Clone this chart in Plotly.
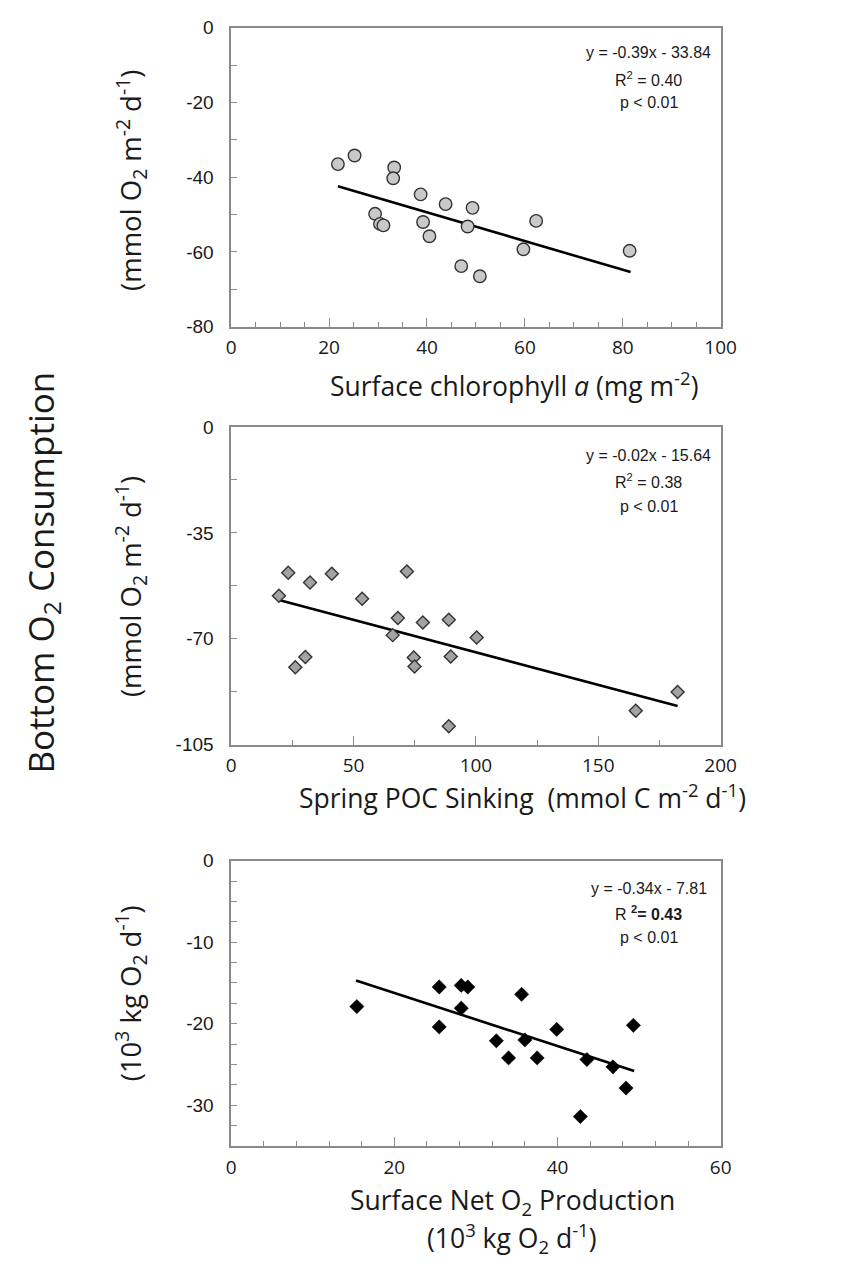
import plotly.graph_objects as go

W, H = 841, 1270

# ---------------- data ----------------
chl_x = [21.8, 25.2, 33.3, 33.1, 38.7, 43.8, 49.3, 29.4, 30.4, 31.1, 39.2, 40.5, 48.3, 62.3, 59.7, 81.4, 47.0, 50.8]
chl_y = [-36.5, -34.2, -37.4, -40.3, -44.6, -47.2, -48.2, -49.8, -52.5, -52.9, -52.0, -55.8, -53.2, -51.7, -59.3, -59.7, -63.8, -66.5]
chl_fit_x = [21.8, 81.6]
chl_fit_y = [-42.4, -65.4]

poc_x = [19.5, 23.3, 32.2, 41.1, 71.8, 53.5, 68.1, 78.3, 88.9, 66.0, 100.3, 30.3, 26.2, 74.6, 74.9, 89.7, 88.9, 165.3, 182.4]
poc_y = [-55.8, -48.2, -51.4, -48.5, -47.8, -56.8, -63.1, -64.6, -63.7, -68.8, -69.6, -76.0, -79.4, -76.2, -79.2, -75.9, -98.9, -93.8, -87.6]
poc_fit_x = [19.5, 182.4]
poc_fit_y = [-57.2, -92.2]

npp_x = [15.4, 25.5, 25.5, 28.2, 29.0, 28.2, 35.6, 32.5, 36.0, 34.0, 37.5, 39.9, 43.6, 46.8, 49.3, 48.4, 42.8]
npp_y = [-17.9, -15.5, -20.4, -15.3, -15.5, -18.1, -16.4, -22.1, -22.0, -24.2, -24.2, -20.7, -24.4, -25.3, -20.2, -27.9, -31.4]
npp_fit_x = [15.3, 49.4]
npp_fit_y = [-14.7, -25.8]

y1_ticks = [0, -20, -40, -60, -80]
y1_labels = ["0", "-20", "-40", "-60", "-80"]
y2_ticks = [0, -35, -70, -105]
y2_labels = ["0", "-35", "-70", "-105"]
y3_ticks = [0, -10, -20, -30]
y3_labels = ["0", "-10", "-20", "-30"]

stats1 = ["y = -0.39x - 33.84", "R<sup>2</sup> = 0.40", "p < 0.01"]
stats2 = ["y = -0.02x - 15.64", "R<sup>2</sup> = 0.38", "p < 0.01"]
stats3 = ["y = -0.34x - 7.81", "R <b><sup>2</sup>= 0.43</b>", "p < 0.01"]

# ---------------- helpers (window pixels -> paper fractions) ----------------
def px(x):
    return x / W

def py(y):
    return 1 - y / H

AXIS_COL = "#8a8a8a"
TXT = "#1a1a1a"
TICK_FONT_Y = dict(family="Liberation Sans, Arial", size=19, color=TXT)
TICK_FONT_X = dict(family="Open Sans", size=19, color=TXT)
TITLE_FONT = "Open Sans"

fig = go.Figure()

# panel 1
fig.add_trace(go.Scatter(x=chl_fit_x, y=chl_fit_y, mode="lines",
                         line=dict(color="black", width=2.6), xaxis="x", yaxis="y", showlegend=False))
fig.add_trace(go.Scatter(x=chl_x, y=chl_y, mode="markers",
                         marker=dict(symbol="circle", size=12.5, color="#c9c9c9",
                                     line=dict(color="#333333", width=1.4)),
                         xaxis="x", yaxis="y", showlegend=False))
# panel 2
fig.add_trace(go.Scatter(x=poc_fit_x, y=poc_fit_y, mode="lines",
                         line=dict(color="black", width=2.6), xaxis="x2", yaxis="y2", showlegend=False))
fig.add_trace(go.Scatter(x=poc_x, y=poc_y, mode="markers",
                         marker=dict(symbol="diamond", size=10, color="#a3a3a3",
                                     line=dict(color="#333333", width=1.4)),
                         xaxis="x2", yaxis="y2", showlegend=False))
# panel 3
fig.add_trace(go.Scatter(x=npp_fit_x, y=npp_fit_y, mode="lines",
                         line=dict(color="black", width=2.6), xaxis="x3", yaxis="y3", showlegend=False))
fig.add_trace(go.Scatter(x=npp_x, y=npp_y, mode="markers",
                         marker=dict(symbol="diamond", size=11, color="black",
                                     line=dict(color="black", width=0.5)),
                         xaxis="x3", yaxis="y3", showlegend=False))

xdom = [px(232), px(734)]


def xaxis(rng, dtick, mdtick, anchor):
    return dict(domain=xdom, range=rng, anchor=anchor, showgrid=False, zeroline=False,
                showline=True, mirror=True, linecolor=AXIS_COL, linewidth=1.6,
                ticks="inside", ticklen=9, tickwidth=1.2, tickcolor=AXIS_COL,
                dtick=dtick, tick0=0, tickfont=TICK_FONT_X, ticklabelstandoff=3,
                minor=dict(dtick=mdtick, tick0=0, ticks="inside", ticklen=5,
                           tickwidth=1.2, tickcolor=AXIS_COL, showgrid=False))


def yaxis(dom, rng, vals, labels, mdtick, anchor):
    return dict(domain=dom, range=rng, anchor=anchor, showgrid=False, zeroline=False,
                showline=True, mirror=True, linecolor=AXIS_COL, linewidth=1.6,
                ticks="inside", ticklen=6, tickwidth=1.2, tickcolor=AXIS_COL,
                tickmode="array", tickvals=vals, ticktext=labels,
                tickfont=TICK_FONT_Y, ticklabelstandoff=12,
                minor=dict(dtick=mdtick, tick0=0, ticks="inside", ticklen=6,
                           tickwidth=1.2, tickcolor=AXIS_COL, showgrid=False))


fig.update_layout(
    width=W, height=H,
    margin=dict(l=0, r=0, t=0, b=0),
    paper_bgcolor="white", plot_bgcolor="white",
    xaxis=xaxis([0, 100], 20, 5, "y"),
    yaxis=yaxis([py(322), py(18)], [-80, 0], y1_ticks, y1_labels, 10, "x"),
    xaxis2=xaxis([0, 200], 50, 25, "y2"),
    yaxis2=yaxis([py(747), py(424)], [-105, 0], y2_ticks, y2_labels, 17.5, "x2"),
    xaxis3=xaxis([0, 60], 20, 4, "y3"),
    yaxis3=yaxis([py(1155), py(865)], [-35, 0], y3_ticks, y3_labels, 2.5, "x3"),
)

ann = []


def text(x, y, t, size, family=TITLE_FONT, angle=0):
    ann.append(dict(x=px(x), y=py(y), xref="paper", yref="paper", text=t, showarrow=False,
                    textangle=angle, xanchor="center", yanchor="middle",
                    font=dict(family=family, size=size, color=TXT)))


# stats boxes
for lines, ys in ((stats1, (43, 70, 94)), (stats2, (453, 479, 505)), (stats3, (893, 918, 943))):
    for t, yy in zip(lines, ys):
        text(660, yy, t, 16, family="Liberation Sans, Arial")

# x-axis titles
text(523, 381, "Surface chlorophyll <i>a</i> (mg m<sup>-2</sup>)", 26.5)
text(531, 800, "Spring POC Sinking  (mmol C m<sup>-2</sup> d<sup>-1</sup>)", 26.5)
text(520, 1212, "Surface Net O<sub>2</sub> Production", 26.5)
text(520, 1249, "(10<sup>3</sup> kg O<sub>2</sub> d<sup>-1</sup>)", 26.5)

# y-axis titles
text(129, 173, "(mmol O<sub>2</sub> m<sup>-2</sup> d<sup>-1</sup>)", 27.5, angle=-90)
text(129, 586, "(mmol O<sub>2</sub> m<sup>-2</sup> d<sup>-1</sup>)", 27.5, angle=-90)
text(129, 1000, "(10<sup>3</sup> kg O<sub>2</sub> d<sup>-1</sup>)", 27.5, angle=-90)

# overall title
text(38, 572, "Bottom O<sub>2</sub> Consumption", 35, angle=-90)

fig.update_layout(annotations=ann)

fig.write_html("out.html")
